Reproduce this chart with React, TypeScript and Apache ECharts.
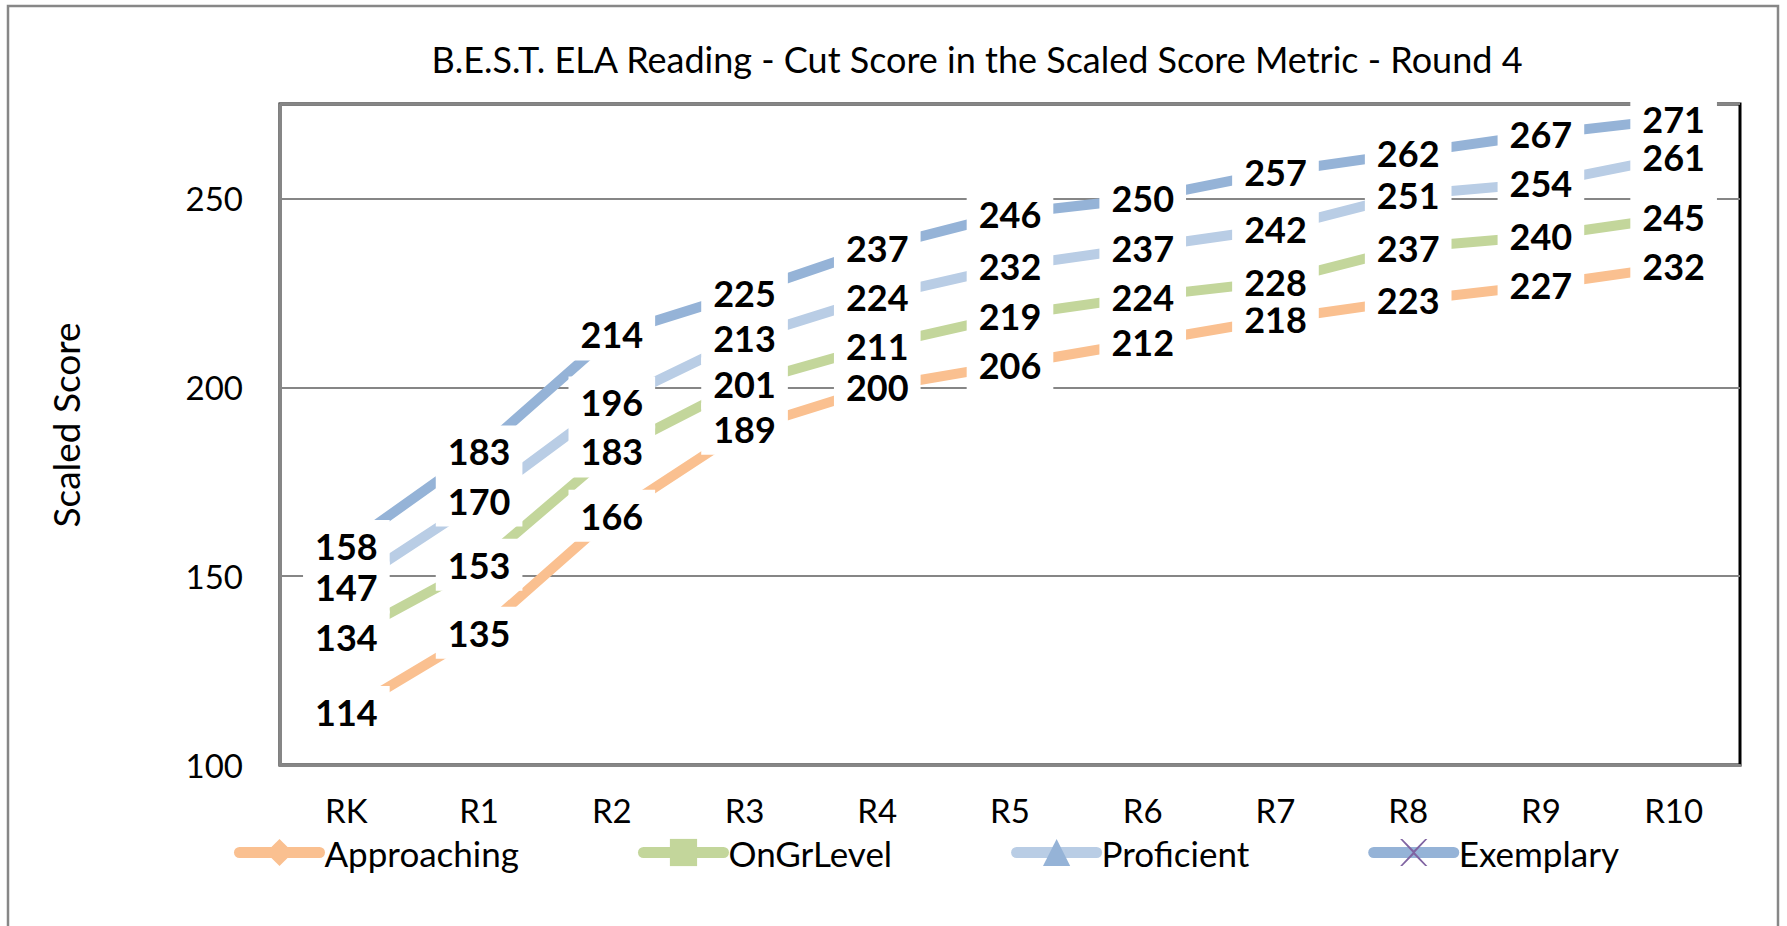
import React, { useEffect, useRef } from "react";
import * as echarts from "echarts";

const categories = ["RK", "R1", "R2", "R3", "R4", "R5", "R6", "R7", "R8", "R9", "R10"];
const approaching = [114, 135, 166, 189, 200, 206, 212, 218, 223, 227, 232];
const onGrLevel = [134, 153, 183, 201, 211, 219, 224, 228, 237, 240, 245];
const proficient = [147, 170, 196, 213, 224, 232, 237, 242, 251, 254, 261];
const exemplary = [158, 183, 214, 225, 237, 246, 250, 257, 262, 267, 271];
const yMin = 100;
const yMax = 275;
const yInterval = 50;
const titleText = "B.E.S.T. ELA Reading - Cut Score in the Scaled Score Metric - Round 4";
const yAxisTitle = "Scaled Score";
const seriesNames = ["Approaching", "OnGrLevel", "Proficient", "Exemplary"];

const FONT = "Lato";
const X_PATH =
  "path://M0,0 L1.6,0 L10,8.6 L18.4,0 L20,0 L10.8,10 L20,20 L18.4,20 L10,11.4 L1.6,20 L0,20 L9.2,10 Z";

function makeSeries(name: string, data: number[], lineColor: string, markColor: string, symbol: string) {
  return {
    name,
    type: "line",
    data,
    symbol,
    symbolSize: 10,
    showSymbol: true,
    lineStyle: { color: lineColor, width: 10, cap: "butt" },
    itemStyle: { color: markColor },
    label: {
      show: true,
      position: "inside",
      fontFamily: FONT,
      fontWeight: "bold",
      fontSize: 36,
      color: "#000",
      backgroundColor: "#fff",
      padding: [3, 12],
      lineHeight: 46,
    },
    emphasis: { disabled: true },
  };
}

export default function App() {
  const ref = useRef<HTMLDivElement>(null);
  useEffect(() => {
    if (!ref.current) return;
    const chart = echarts.init(ref.current, undefined, { renderer: "svg" });
    chart.setOption({
      animation: false,
      backgroundColor: "#fff",
      graphic: [
        {
          type: "rect",
          shape: { x: 8, y: 6, width: 1770, height: 960 },
          style: { fill: "none", stroke: "#878787", lineWidth: 2.5 },
          silent: true,
        },
        {
          type: "text",
          x: 977,
          y: 59,
          style: {
            text: titleText,
            fontFamily: FONT,
            fontSize: 36,
            fill: "#000",
            textAlign: "center",
            textVerticalAlign: "middle",
          },
        },
        {
          type: "text",
          x: 65,
          y: 425,
          rotation: Math.PI / 2,
          style: {
            text: yAxisTitle,
            fontFamily: FONT,
            fontSize: 37,
            fill: "#000",
            textAlign: "center",
            textVerticalAlign: "middle",
          },
        },
      ],
      grid: {
        left: 280,
        top: 104,
        width: 1460,
        height: 661,
        show: true,
        borderColor: "#000",
        borderWidth: 3,
        backgroundColor: "transparent",
      },
      legend: {
        left: 229,
        top: 830,
        itemWidth: 80,
        itemHeight: 34,
        itemGap: 119,
        data: seriesNames,
        textStyle: { fontFamily: FONT, fontSize: 35, color: "#000", lineHeight: 30 },
        lineStyle: { width: 11, cap: "round" },
      },
      xAxis: {
        type: "category",
        data: categories,
        boundaryGap: true,
        axisLine: { show: true, lineStyle: { color: "#868686", width: 3 } },
        axisTick: { show: false },
        axisLabel: { fontFamily: FONT, fontSize: 33, color: "#000", margin: 31, lineHeight: 28 },
        splitLine: { show: false },
      },
      yAxis: {
        type: "value",
        min: yMin,
        max: yMax,
        interval: yInterval,
        axisLine: { show: true, lineStyle: { color: "#868686", width: 3 } },
        axisTick: { show: false },
        axisLabel: { fontFamily: FONT, fontSize: 33, color: "#000", margin: 37, showMaxLabel: false },
        splitLine: { show: true, lineStyle: { color: "#868686", width: 2 } },
      },
      series: [
        makeSeries(seriesNames[0], approaching, "#FAC090", "#FAC090", "diamond"),
        makeSeries(seriesNames[1], onGrLevel, "#C3D69B", "#C3D69B", "rect"),
        makeSeries(seriesNames[2], proficient, "#B9CDE5", "#95B3D7", "triangle"),
        makeSeries(seriesNames[3], exemplary, "#95B3D7", "#8064A2", X_PATH),
      ],
    });
    return () => chart.dispose();
  }, []);
  return (
    <div
      ref={ref}
      style={{ position: "fixed", left: 0, top: 0, width: 1787, height: 926, background: "#fff" }}
    />
  );
}
